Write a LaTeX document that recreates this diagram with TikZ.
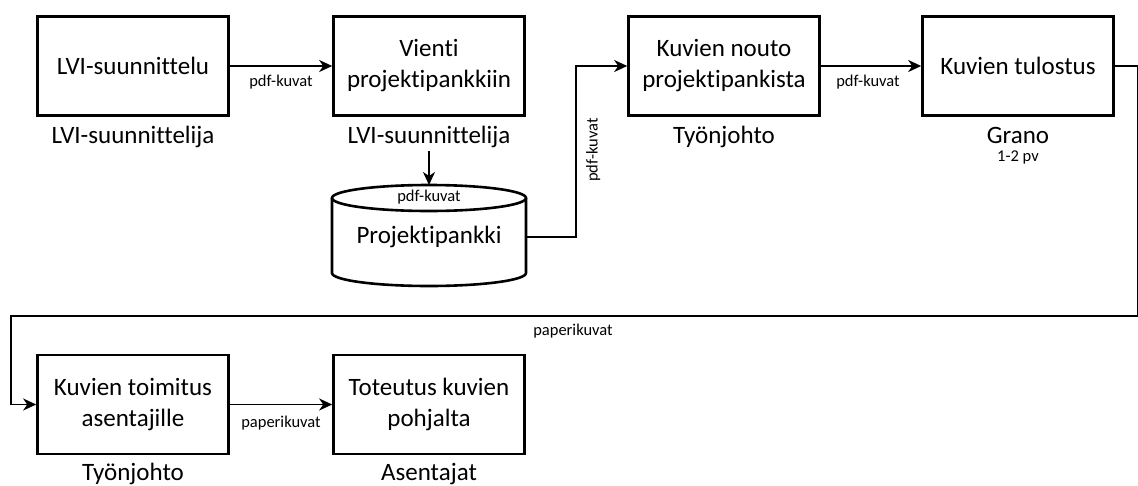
\documentclass[tikz,border=0pt]{standalone}
\usepackage{fontspec}
\setmainfont{Carlito}[Ligatures={NoCommon}]
\usetikzlibrary{arrows.meta}
\begin{document}
\begin{tikzpicture}[x=1pt,y=-1pt,
  stepbox/.style={draw, line width=2.6pt, minimum width=191pt, minimum height=99pt,
    inner sep=0pt, align=center, font=\fontsize{25}{31}\selectfont},
  role/.style={font=\fontsize{25}{31}\selectfont, inner sep=0pt, anchor=base},
  note/.style={font=\fontsize{16.5}{20}\selectfont, inner sep=0pt},
  flow/.style={line width=1.9pt, -{Stealth[length=13pt,width=12pt,inset=4pt]}},
  link/.style={line width=1.9pt}]
\useasboundingbox (0,0) rectangle (1138,485);

% process steps, top row
\node[stepbox] (b1) at (133,66) {LVI-suunnittelu};
\node[stepbox] (b2) at (429,66) {Vienti\\projektipankkiin};
\node[stepbox] (b3) at (724,66) {Kuvien nouto\\projektipankista};
\node[stepbox] (b4) at (1018,66) {Kuvien tulostus};

% process steps, bottom row
\node[stepbox] (b5) at (133,404.5) {Kuvien toimitus\\asentajille};
\node[stepbox] (b6) at (429,404.5) {Toteutus kuvien\\pohjalta};

% who does each step
\node[role] (r1) at (133,143) {LVI-suunnittelija};
\node[role] (r2) at (429,143) {LVI-suunnittelija};
\node[role] (r3) at (724,143) {Työnjohto};
\node[role] (r4) at (1018,143) {Grano};
\node[note, anchor=base] (t4) at (1018,161) {1-2 pv};
\node[role] (r5) at (133,480) {Työnjohto};
\node[role] (r6) at (429,480) {Asentajat};

% project bank (cylinder)
\fill[white] (332,198) -- (332,273) arc[start angle=180, end angle=0, x radius=97, y radius=13] -- (526,198) -- cycle;
\draw[line width=2.6pt] (332,198) -- (332,273) arc[start angle=180, end angle=0, x radius=97, y radius=13] -- (526,198);
\draw[line width=2.6pt] (429,198) ellipse [x radius=97, y radius=13];
\node[note] (ct) at (429,197) {pdf-kuvat};
\node[minimum width=194pt, minimum height=70pt, inner sep=0pt,
      font=\fontsize{25}{31}\selectfont] (bank) at (429,237) {Projektipankki};
\coordinate (banktop) at (429,185);

% connectors
\draw[flow] (b1) -- (b2);
\node[note] (l12) at (281,82) {pdf-kuvat};

\draw[flow] ([yshift=-4pt]r2.south) -- (banktop);

\coordinate (up) at (576,66);
\draw[flow] (bank.east) -| (up) -- (b3.west);
\node[note, rotate=90, anchor=north] (l23) at (586,150) {pdf-kuvat};

\draw[flow] (b3) -- (b4);
\node[note] (l34) at (868,82) {pdf-kuvat};

\coordinate (ca) at (1137.5,316);
\coordinate (cb) at (11,316);
\draw[flow] (b4.east) -| (ca) -- (cb) |- (b5.west);
\node[note] (l45) at (573,331) {paperikuvat};

\draw[flow] (b5) -- (b6);
\node[note] (l56) at (281,423) {paperikuvat};
\end{tikzpicture}
\end{document}
